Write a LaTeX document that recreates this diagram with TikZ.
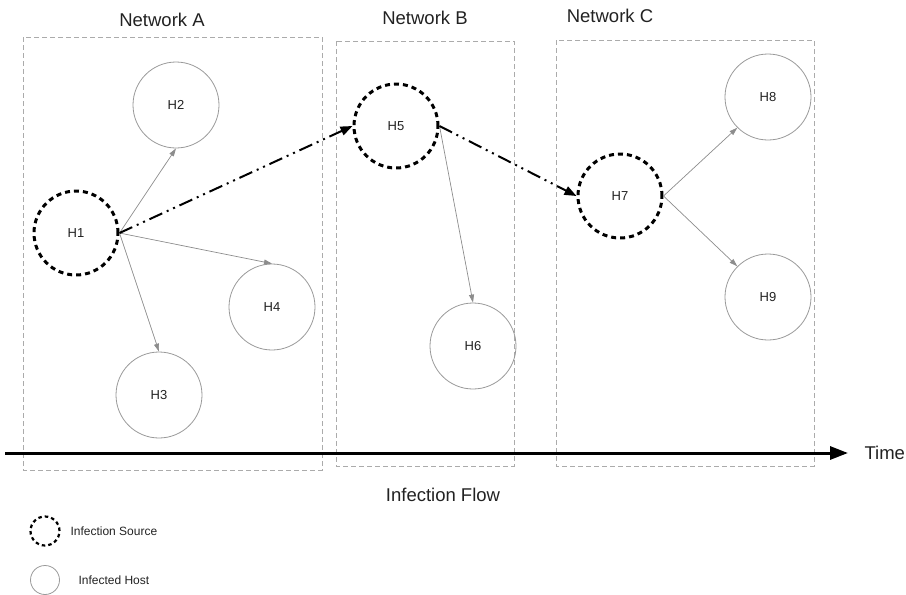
\documentclass[tikz,border=0pt]{standalone}
\usepackage{fontspec}
\setmainfont{Liberation Sans}
\usetikzlibrary{arrows.meta}
\definecolor{hostgray}{HTML}{9A9A9A}
\definecolor{boxgray}{HTML}{ABABAB}
\definecolor{linkgray}{HTML}{8C8C8C}
\definecolor{txt}{HTML}{222222}
\tikzset{
  host/.style={circle, draw=hostgray, line width=0.8pt, minimum size=86pt, inner sep=0pt,
    font=\fontsize{13}{15}\selectfont, text=txt},
  source/.style={circle, draw=black, line width=3pt, dash pattern=on 5pt off 4pt,
    minimum size=84pt, inner sep=0pt, font=\fontsize{13}{15}\selectfont, text=txt},
  netbox/.style={draw=boxgray, line width=0.8pt, dash pattern=on 5pt off 3pt},
  title/.style={font=\fontsize{18.5}{22}\selectfont, text=txt},
  spread/.style={draw=linkgray, line width=0.7pt, -{Triangle[length=8pt,width=5pt]}},
  hop/.style={draw=black, line width=2pt,
    dash pattern=on 14pt off 5pt on 2pt off 5pt on 2pt off 5pt,
    -{Triangle[length=12pt,width=9pt]}},
  legtext/.style={font=\fontsize{12}{14}\selectfont, text=txt, anchor=west}
}
\begin{document}
\begin{tikzpicture}[x=1pt,y=-1pt]
\useasboundingbox (0,0) rectangle (906,595);

% network boxes
\draw[netbox] (23,37) rectangle (322,470);
\draw[netbox] (336,41) rectangle (514,466);
\draw[netbox] (556,40) rectangle (814,466);
\node[title] (ta) at (162,20) {Network A};
\node[title] (tb) at (425,18) {Network B};
\node[title] (tc) at (610,16) {Network C};

% hosts
\node[source] (h1) at (76,233) {H1};
\node[host] (h2) at (176,105) {H2};
\node[host] (h3) at (159,395) {H3};
\node[host] (h4) at (272,307) {H4};
\node[source] (h5) at (396,126) {H5};
\node[host] (h6) at (473,346) {H6};
\node[source] (h7) at (620,196) {H7};
\node[host] (h8) at (768,97) {H8};
\node[host] (h9) at (768,297) {H9};

% spread inside each network
\draw[spread] (h1.east) -- (h2.south);
\draw[spread] (h1.east) -- (h4.north);
\draw[spread] (h1.east) -- (h3.north);
\draw[spread] (h5.east) -- (h6.north);
\draw[spread] (h7.east) -- (h8.225);
\draw[spread] (h7.east) -- (h9.135);

% infection hops between networks
\draw[hop] (h1.east) -- (h5.west);
\draw[hop] (h5.east) -- (h7.west);

% time axis
\coordinate (t0) at (5,453);
\coordinate (t1) at (848,453);
\draw[line width=3pt, -{Triangle[length=18pt,width=13pt]}] (t0) -- (t1);
\node[title, anchor=west] (time) at (861,453) {Time};
\node[title] (flow) at (443,495) {Infection Flow};

% legend
\node[circle, draw=black, line width=2.2pt, dash pattern=on 3.5pt off 3pt, minimum size=29pt, inner sep=0pt] (ls) at (45,531) {};
\node[legtext] (lst) at (67,531) {Infection Source};
\node[circle, draw=hostgray, line width=0.8pt, minimum size=29pt, inner sep=0pt] (lh) at (45,580) {};
\node[legtext] (lht) at (75,580) {Infected Host};
\end{tikzpicture}
\end{document}
